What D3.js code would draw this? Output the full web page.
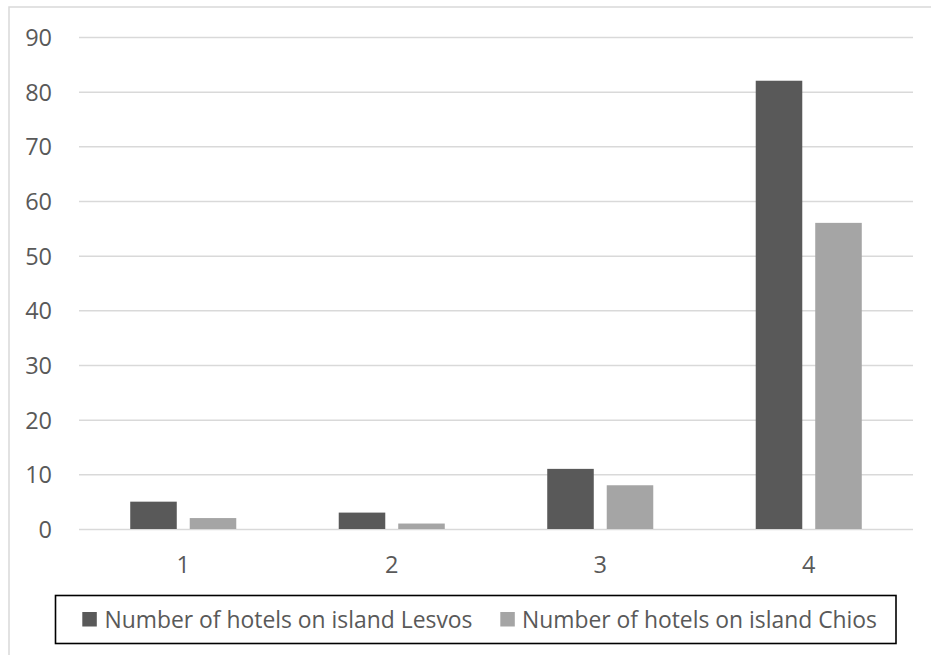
<!DOCTYPE html>
<html>
<head>
<meta charset="utf-8">
<script src="https://cdn.jsdelivr.net/npm/d3@7"></script>
<style>
  html, body { margin: 0; padding: 0; background: #fff; }
  svg { display: block; }
  text { font-family: "Open Sans", "DejaVu Sans", sans-serif; fill: #595959; }
</style>
</head>
<body>
<svg id="chart" width="931" height="655"></svg>
<script>
// Hotel counts per category on the two islands
const categories = ["1", "2", "3", "4"];
const seriesNames = ["Number of hotels on island Lesvos", "Number of hotels on island Chios"];
const lesvos = [5, 3, 11, 82];
const chios = [2, 1, 8, 56];
const yTicks = [0, 10, 20, 30, 40, 50, 60, 70, 80, 90];

const colors = ["#595959", "#a5a5a5"];
const seriesValues = [lesvos, chios];

const svg = d3.select("#chart");

// Chart area frame
svg.append("rect")
  .attr("x", 9).attr("y", 7)
  .attr("width", 940).attr("height", 660)
  .attr("fill", "none")
  .attr("stroke", "#d9d9d9")
  .attr("stroke-width", 1.5);

const plot = { left: 79, right: 913, top: 37, bottom: 529 };

const y = d3.scaleLinear().domain([0, 90]).range([plot.bottom, plot.top]);
const x0 = d3.scaleBand().domain(categories).range([plot.left, plot.right]).paddingInner(0).paddingOuter(0);
const x1 = d3.scaleBand().domain(d3.range(seriesNames.length))
  .range([0, x0.bandwidth()]).paddingInner(0.218).paddingOuter(0.861);

// Horizontal gridlines
const yAxis = d3.axisLeft(y).tickValues(yTicks).tickSize(-(plot.right - plot.left)).tickPadding(27).tickFormat(d3.format("d"));
const gy = svg.append("g").attr("transform", `translate(${plot.left},0)`).call(yAxis);
gy.select(".domain").remove();
gy.selectAll(".tick line").attr("stroke", "#d9d9d9").attr("stroke-width", 1.5);
gy.selectAll(".tick text")
  .attr("font-size", 23.5)
  .attr("dy", "0.36em")
  .style("font-family", "'Open Sans', sans-serif")
  .attr("fill", "#595959");

// Bars
const groups = svg.append("g").selectAll("g")
  .data(categories)
  .join("g")
  .attr("transform", d => `translate(${x0(d)},0)`);

groups.selectAll("rect")
  .data((d, i) => seriesValues.map((vals, s) => ({ s, v: vals[i] })))
  .join("rect")
  .attr("x", d => x1(d.s))
  .attr("width", x1.bandwidth())
  .attr("y", d => y(d.v))
  .attr("height", d => y(0) - y(d.v))
  .attr("fill", d => colors[d.s]);

// Category axis labels
const xAxis = d3.axisBottom(x0).tickSize(0).tickPadding(27);
const gx = svg.append("g").attr("transform", `translate(0,${plot.bottom})`).call(xAxis);
gx.select(".domain").remove();
gx.selectAll(".tick text")
  .attr("font-size", 23.5)
  .style("font-family", "'Open Sans', sans-serif")
  .attr("fill", "#595959");

// Legend
const legend = svg.append("g");
legend.append("rect")
  .attr("x", 55.5).attr("y", 595.5)
  .attr("width", 840.5).attr("height", 48)
  .attr("fill", "#fff")
  .attr("stroke", "#000")
  .attr("stroke-width", 1.6);

const legendItems = [
  { marker: 82.3, textX: 104.5, textLen: 368 },
  { marker: 500.3, textX: 522, textLen: 355 }
];
legendItems.forEach((it, i) => {
  legend.append("rect")
    .attr("x", it.marker).attr("y", 612)
    .attr("width", 14.5).attr("height", 14.5)
    .attr("fill", colors[i]);
  legend.append("text")
    .attr("x", it.textX).attr("y", 619)
    .attr("dy", "0.36em")
    .attr("font-size", 24)
    .attr("textLength", it.textLen)
    .attr("lengthAdjust", "spacingAndGlyphs")
    .text(seriesNames[i]);
});
</script>
</body>
</html>
